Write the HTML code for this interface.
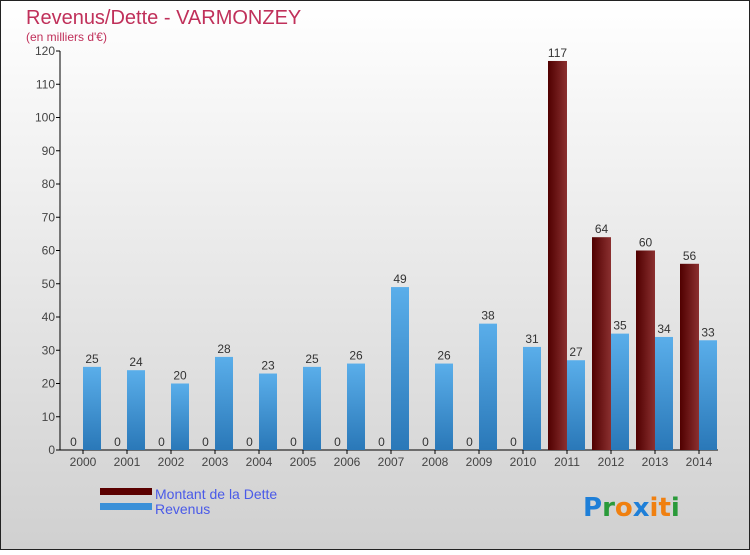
<!DOCTYPE html>
<html><head><meta charset="utf-8"><style>
html,body{margin:0;padding:0}
body{width:750px;height:550px;overflow:hidden;font-family:"Liberation Sans",sans-serif}
</style></head><body>
<svg width="750" height="550" xmlns="http://www.w3.org/2000/svg">
<defs>
<linearGradient id="bg" x1="0" y1="0" x2="0" y2="1"><stop offset="0" stop-color="#ffffff"/><stop offset="1" stop-color="#d0d0d0"/></linearGradient>
<linearGradient id="gd" x1="0" y1="0" x2="1" y2="0"><stop offset="0" stop-color="#500000"/><stop offset="1" stop-color="#8b3030"/></linearGradient>
<linearGradient id="gr" x1="0" y1="0" x2="0" y2="1"><stop offset="0" stop-color="#5aaeea"/><stop offset="1" stop-color="#2a78b8"/></linearGradient>
</defs>
<rect x="0.5" y="0.5" width="749" height="549" fill="url(#bg)" stroke="#222"/>
<text x="26" y="24" font-size="20" fill="#c0305a">Revenus/Dette - VARMONZEY</text>
<text x="26" y="41" font-size="12" fill="#c0305a">(en milliers d'€)</text>
<g id="axes"></g>
<g id="bars"></g>
<g>
<rect x="100" y="488" width="52" height="7" fill="#5a0000"/>
<text x="155" y="499" font-size="14" fill="#4a5ae8">Montant de la Dette</text>
<rect x="100" y="503" width="52" height="7" fill="#3a90d8"/>
<text x="155" y="514" font-size="14" fill="#4a5ae8">Revenus</text>
</g>
<g font-size="26" font-weight="bold" font-family="'DejaVu Sans',sans-serif">
<text x="583" y="516"><tspan fill="#1e7fd8">P</tspan><tspan fill="#2a9a3a">r</tspan><tspan fill="#f08010">o</tspan><tspan fill="#1e7fd8">x</tspan><tspan fill="#f08010">i</tspan><tspan fill="#f08010">t</tspan><tspan fill="#2a9a3a">i</tspan></text>
</g>
</svg>
<script>
const years=["2000","2001","2002","2003","2004","2005","2006","2007","2008","2009","2010","2011","2012","2013","2014"];
const debt=[0,0,0,0,0,0,0,0,0,0,0,117,64,60,56];
const revenue=[25,24,20,28,23,25,26,49,26,38,31,27,35,34,33];
const yTicks=[0,10,20,30,40,50,60,70,80,90,100,110,120];
const NS="http://www.w3.org/2000/svg";
const y0=450,yScale=399/120;
function Y(v){return y0-v*yScale;}
function X(i){return 64+44*i;}
function mk(tag,attrs,parent){const e=document.createElementNS(NS,tag);for(const k in attrs)e.setAttribute(k,attrs[k]);parent.appendChild(e);return e;}
const axes=document.getElementById('axes'),bars=document.getElementById('bars');
let l=mk('line',{x1:60,y1:51,x2:60,y2:450,stroke:'#000'},axes);


l=mk('line',{x1:60,y1:450,x2:718,y2:450,stroke:'#000'},axes);


yTicks.forEach(v=>{
 const t=mk('line',{x1:56,y1:Y(v),x2:60,y2:Y(v),stroke:'#000'},axes);
 
 
 const tx=mk('text',{x:55,y:Y(v)+4,'font-size':12,fill:'#444','text-anchor':'end'},axes);
 tx.textContent=v;
 
 
});
years.forEach((yr,i)=>{
 const t=mk('text',{x:X(i)+19,y:466,'font-size':12,fill:'#444','text-anchor':'middle'},axes);
 t.textContent=yr;
 
 
 const tk=mk('line',{x1:X(i)+19,y1:450,x2:X(i)+19,y2:454,stroke:'#000'},axes);
 
 
 const d=debt[i],r=revenue[i];
 const bd=mk('rect',{x:X(i),y:Y(d),width:19,height:Math.max(d*yScale,0.01),fill:'url(#gd)'},bars);
 
 
 const ld=mk('text',{x:X(i)+9.5,y:Y(d)-4,'font-size':12,fill:'#333','text-anchor':'middle'},bars);
 ld.textContent=d;
 
 
 const br=mk('rect',{x:X(i)+19,y:Y(r),width:18,height:r*yScale,fill:'url(#gr)'},bars);
 
 
 const lr=mk('text',{x:X(i)+28,y:Y(r)-4,'font-size':12,fill:'#333','text-anchor':'middle'},bars);
 lr.textContent=r;
 
 
});
</script>
</body></html>
